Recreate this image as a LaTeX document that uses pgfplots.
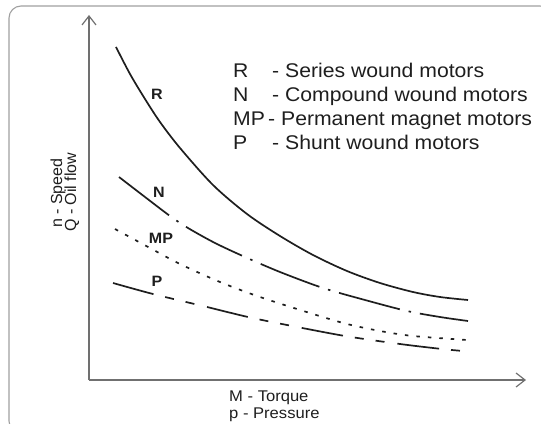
\documentclass[border=0pt]{standalone}
\usepackage{fontspec}
\setmainfont{Liberation Sans}[FakeStretch=1.07]
\newfontfamily\plainsans{Liberation Sans}
\usepackage{pgfplots}
\pgfplotsset{compat=1.18}
\usetikzlibrary{arrows.meta}
\definecolor{ink}{HTML}{1E1E1E}
\definecolor{axgray}{HTML}{707070}
\definecolor{boxgray}{HTML}{A0A0A0}
\definecolor{txt}{HTML}{1E1E1E}

\begin{document}
\begin{tikzpicture}[x=1bp,y=1bp]
\begin{axis}[
  at={(89bp,43bp)}, anchor=south west,
  scale only axis, width=437bp, height=365bp,
  xmin=89, xmax=526, ymin=43, ymax=408,
  axis lines=left, ticks=none,
  axis line style={draw=axgray, line width=1.1bp, -{Straight Barb[length=9bp,width=14bp,line width=1.2bp]}},
  clip=false,
  curve/.style={ink, line width=1.7bp, smooth, no markers},
]
% R - series wound
\addplot[curve] coordinates {(116,376) (130,349) (145,324) (160,301) (180,275) (213,238) (247,209) (280,187) (313,168) (347,152) (380,140) (413,131) (440,126) (468,123)};
% N - compound wound
\addplot[curve, dash pattern=on 63bp off 9bp on 2.5bp off 9bp] coordinates {(119,246) (145,226) (170,207) (188,195) (215,180) (245,166) (280,151) (323,135) (365,123) (407,112) (440,106) (468,102)};
% MP - permanent magnet
\addplot[curve, dash pattern=on 3.5bp off 8bp] coordinates {(115,194) (150,175) (180,159) (220,141) (260,126) (313,109) (347,99) (380,92) (413,87) (467,83)};
% P - shunt wound
\addplot[curve, dash pattern=on 42bp off 12bp on 9bp off 12bp on 9bp off 13bp] coordinates {(113,140) (153,129) (207,116) (248,106) (287,98) (345,87) (400,79) (442,74) (463,72)};

% curve labels
\begin{scope}[every node/.style={font=\fontsize{15bp}{17bp}\selectfont\bfseries, text=txt, inner sep=0pt}]
\node at (axis cs:157,329) {R};
\node at (axis cs:159,231) {N};
\node at (axis cs:161,185) {MP};
\node at (axis cs:157,142) {P};
\end{scope}

% legend text
\begin{scope}[every node/.style={font=\fontsize{19.8bp}{23bp}\selectfont, text=txt, inner sep=0pt, anchor=base west}]
\node at (axis cs:233,345) {R};
\node at (axis cs:272,345) {- Series wound motors};
\node at (axis cs:233,321) {N};
\node at (axis cs:272,321) {- Compound wound motors};
\node at (axis cs:233,297) {MP};
\node at (axis cs:268,297) {- Permanent magnet motors};
\node at (axis cs:233,273) {P};
\node at (axis cs:272,273) {- Shunt wound motors};
\end{scope}

% axis labels
\begin{scope}[every node/.style={font=\fontsize{15.5bp}{18bp}\selectfont, text=txt, inner sep=0pt, anchor=base west}]
\node at (axis cs:229,22) {M - Torque};
\node at (axis cs:229,5) {p - Pressure};
\node[rotate=90, font=\plainsans\fontsize{16bp}{18bp}\selectfont] at (axis cs:62,195) {n - Speed};
\node[rotate=90, font=\plainsans\fontsize{16bp}{18bp}\selectfont] at (axis cs:76,191) {Q - Oil flow};
\end{scope}
\end{axis}
\draw[overlay, boxgray, line width=1.1bp, rounded corners=12bp] (9,417) rectangle (552,-10);
\path (0,0) rectangle (541,423);
\end{tikzpicture}
\end{document}
